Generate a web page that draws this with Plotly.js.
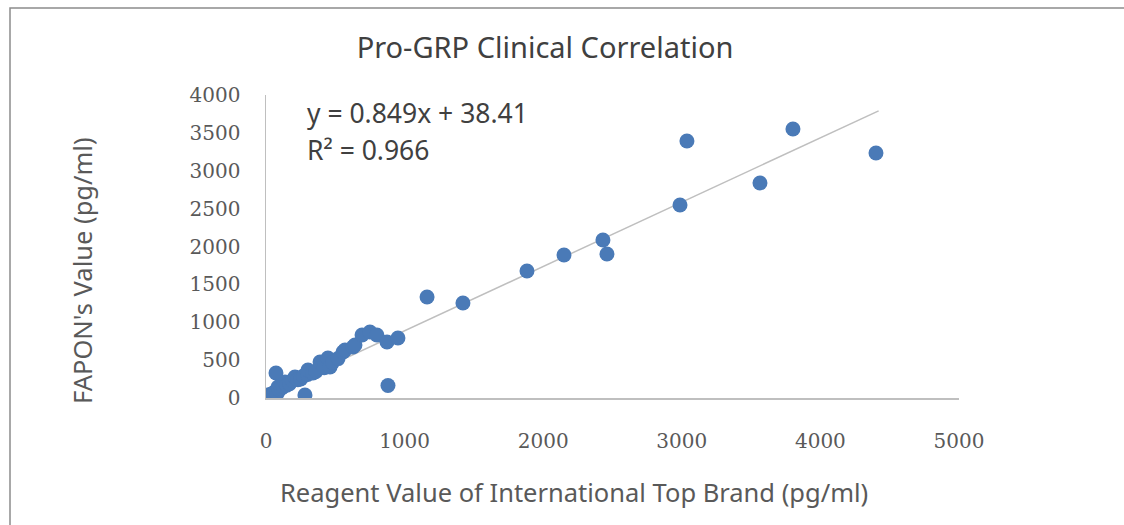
<!DOCTYPE html>
<html>
<head>
<meta charset="utf-8">
<script src="https://cdn.plot.ly/plotly-3.0.1.min.js"></script>
<style>html,body{margin:0;padding:0;background:#fff;}#chart{width:1124px;height:525px;}</style>
</head>
<body>
<div id="chart"></div>
<script>
// Reagent value of international top brand (pg/ml)
const refValues = [
  5, 10, 14, 20, 28, 35, 45, 55, 65, 72, 80, 87, 95, 110, 125, 137, 150, 170, 190, 209,
  230, 250, 270, 281, 300, 303, 339, 360, 390, 420, 447, 462, 480, 520, 556, 570, 628, 642,
  693, 750, 800, 873, 880, 952, 1162, 1421, 1883, 2150, 2431, 2460, 2987, 3037, 3564, 3802, 4401
];
// FAPON's value (pg/ml)
const faponValues = [
  5, 20, 40, 15, 35, 50, 45, 70, 80, 330, 60, 145, 110, 130, 150, 211, 170, 190, 230, 277,
  240, 250, 290, 40, 310, 370, 330, 350, 475, 400, 528, 409, 470, 520, 607, 634, 673, 700,
  832, 871, 832, 740, 165, 792, 1333, 1254, 1677, 1888, 2086, 1901, 2548, 3393, 2838, 3551, 3234
];
const slope = 0.849;
const intercept = 38.41;
const fitX = [0, 4420];
const fitY = fitX.map(x => slope * x + intercept);

const equationText = 'y = 0.849x + 38.41';
const r2Text = 'R² = 0.966';
const titleText = 'Pro-GRP Clinical Correlation';
const xTitle = 'Reagent Value of International Top Brand (pg/ml)';
const yTitle = "FAPON's Value (pg/ml)";
const xTicks = [0, 1000, 2000, 3000, 4000, 5000];
const yTicks = [0, 500, 1000, 1500, 2000, 2500, 3000, 3500, 4000];

const plotL = 266, plotR = 959, plotT = 95, plotB = 398, W = 1124, H = 525;
const pw = plotR - plotL, ph = plotB - plotT;
const px = p => (p - plotL) / pw;
const py = p => (plotB - p) / ph;

const traces = [
  {
    x: fitX, y: fitY, type: 'scatter', mode: 'lines',
    line: {color: '#bfbfbf', width: 1.5}, hoverinfo: 'skip', showlegend: false
  },
  {
    x: refValues, y: faponValues, type: 'scatter', mode: 'markers',
    marker: {color: '#4a7ab7', size: 15}, showlegend: false
  }
];

const tickFont = {family: 'DejaVu Serif, serif', size: 20, color: '#595959'};
const textFont = {family: 'Noto Sans, sans-serif', size: 26.5, color: '#404040'};
const axTitleFont = {family: 'Noto Sans, sans-serif', size: 25.5, color: '#595959'};

const layout = {
  width: W, height: H,
  margin: {l: plotL, r: W - plotR, t: plotT, b: H - plotB},
  paper_bgcolor: '#ffffff', plot_bgcolor: '#ffffff',
  title: {
    text: titleText, xref: 'container', yref: 'container',
    x: 545 / W, xanchor: 'center', y: 1 - 48 / H, yanchor: 'middle',
    font: {family: 'Noto Sans, sans-serif', size: 29, color: '#404040'}
  },
  xaxis: {
    range: [0, 5000], tickvals: xTicks, ticktext: xTicks.map(String),
    showgrid: false, zeroline: false, showline: true, linecolor: '#bfbfbf', linewidth: 1.5,
    ticks: '', tickfont: tickFont, ticklabelstandoff: 24, fixedrange: true
  },
  yaxis: {
    range: [0, 4000], tickvals: yTicks, ticktext: yTicks.map(String),
    showgrid: false, zeroline: false, showline: true, linecolor: '#bfbfbf', linewidth: 1.5,
    ticks: '', tickfont: tickFont, ticklabelstandoff: 20, fixedrange: true
  },
  annotations: [
    {text: equationText, xref: 'paper', yref: 'paper', x: px(305), y: py(113),
     xanchor: 'left', yanchor: 'middle', showarrow: false, font: textFont},
    {text: r2Text, xref: 'paper', yref: 'paper', x: px(305), y: py(150),
     xanchor: 'left', yanchor: 'middle', showarrow: false, font: textFont},
    {text: xTitle, xref: 'paper', yref: 'paper', x: px(574), y: py(492),
     xanchor: 'center', yanchor: 'middle', showarrow: false, font: axTitleFont},
    {text: yTitle, xref: 'paper', yref: 'paper', x: px(82), y: py(270), textangle: -90,
     xanchor: 'center', yanchor: 'middle', showarrow: false, font: axTitleFont}
  ],
  shapes: [
    {type: 'rect', xref: 'paper', yref: 'paper', x0: px(10), x1: px(1130), y0: py(540), y1: py(8),
     line: {color: '#8c8c8c', width: 1.5}, fillcolor: 'rgba(0,0,0,0)', layer: 'below'}
  ]
};

Plotly.newPlot('chart', traces, layout, {displayModeBar: false, staticPlot: true});
</script>
</body>
</html>
